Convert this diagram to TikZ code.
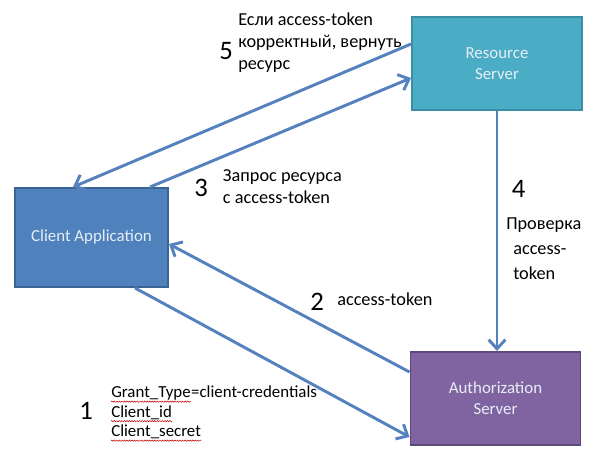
\documentclass[tikz,border=0pt]{standalone}
\usepackage{fontspec}
\setmainfont{Carlito}
\usepackage{xcolor}
\usepackage{tikz}
\usetikzlibrary{arrows.meta,positioning,decorations.pathmorphing}
\definecolor{resteal}{HTML}{4BACC6}
\definecolor{resedge}{HTML}{3A8FA5}
\definecolor{appblue}{HTML}{4F81BD}
\definecolor{appedge}{HTML}{3A6396}
\definecolor{authviolet}{HTML}{8064A2}
\definecolor{authedge}{HTML}{5E4A7A}
\definecolor{flowblue}{HTML}{5582BE}
\definecolor{boxtext}{HTML}{E6EEF5}

\begin{document}
\begin{tikzpicture}[x=1cm,y=1cm,>={Straight Barb[length=2.3mm,width=4.2mm]},
  server/.style={draw,line width=1.4pt,minimum height=2.325cm,align=center,
    text=boxtext,font=\fontsize{12}{15}\selectfont},
  flow/.style={->,flowblue,line width=2.1pt},
  note/.style={anchor=base west,align=left,inner sep=0pt},
  param/.style={anchor=base west,inner sep=0pt,font=\fontsize{12}{13.9}\selectfont},
  spell/.style={red!75!black,line width=0.35pt,decorate,
    decoration={snake,amplitude=0.45pt,segment length=1.8pt}},
  stepnum/.style={anchor=base west,inner sep=0pt,font=\fontsize{19}{19}\selectfont}]
  \useasboundingbox (0,0) rectangle (14.825,11.425);
  \node[server,fill=resteal,draw=resedge,minimum width=4.25cm] (rs) at (12.425,9.8375) {Resource\\Server};
  \node[server,fill=appblue,draw=appedge,minimum width=3.825cm,minimum height=2.475cm] (client) at (2.2875,5.4875) {Client Application};
  \node[server,fill=authviolet,draw=authedge,minimum width=4.25cm] (auth) at (12.3875,1.4625) {Authorization\\Server};
  \draw[flow] ([yshift=0.4875cm]rs.west) -- ([xshift=-0.4625cm]client.north);
  \draw[flow] ([xshift=1.4625cm]client.north) -- ([yshift=-0.3625cm]rs.west);
  \draw[flow] (rs.south) -- (rs.south |- auth.north);
  \draw[flow] ([yshift=0.6625cm]auth.west) -- ([yshift=-0.1625cm]client.east);
  \draw[flow] ([xshift=1.0875cm]client.south) -- ([yshift=-0.9625cm]auth.west);
  % multi-line notes sit on the baseline of their last line
  \node[stepnum] (n5) at (5.475,9.925) {5};
  \node[note,font=\fontsize{13}{16}\selectfont] (t5) at (5.95,9.675) {Если access-token\\корректный, вернуть\\ресурс};
  \node[stepnum] (n3) at (4.85,6.5) {3};
  \node[note,font=\fontsize{13}{15.3}\selectfont] (t3) at (5.5675,6.345) {Запрос ресурса\\с access-token};
  \node[stepnum] (n4) at (12.79,6.475) {4};
  \node[note,font=\fontsize{13}{17.8}\selectfont] (t4) at (12.65,4.425) {Проверка\\\hspace*{1.75mm}access-\\\hspace*{1.75mm}token};
  \node[stepnum] (n2) at (7.75,3.6625) {2};
  \node[note,font=\fontsize{13}{16}\selectfont] (t2) at (8.425,3.775) {access-token};
  \node[stepnum] (n1) at (1.975,0.9375) {1};
  \node[param] (grant) at (2.775,1.475) {Grant\_Type};
  \node[param] (grantval) at (grant.base east) {=client-credentials};
  \node[param] (cid) at (2.775,0.9875) {Client\_id};
  \node[param] (csecret) at (2.775,0.5) {Client\_secret};
  \foreach \w in {grant,cid,csecret}
    \draw[spell] ([yshift=-2.6pt]\w.base west) -- ([yshift=-2.6pt]\w.base east);
\end{tikzpicture}
\end{document}
